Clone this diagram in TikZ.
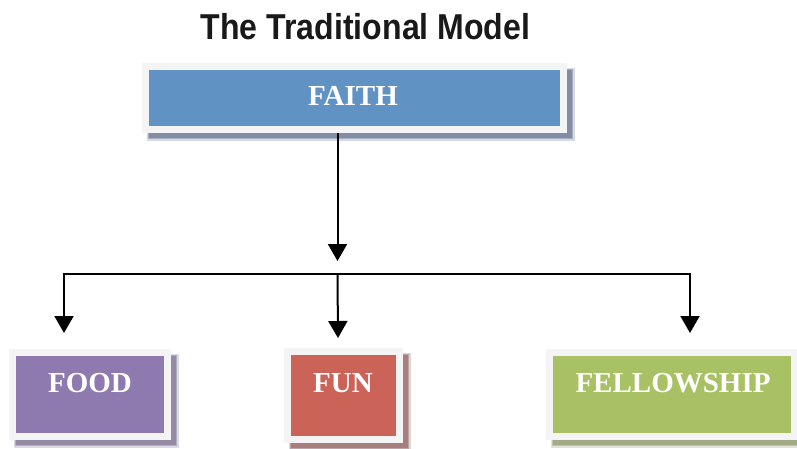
\documentclass[tikz,border=0pt]{standalone}
\usepackage{fontspec}
\newfontfamily\titlefont{Liberation Sans}
\newfontfamily\boxfont{Liberation Serif}
\usetikzlibrary{arrows.meta}
\pgfdeclarelayer{bg}
\pgfsetlayers{bg,main}
\definecolor{faithblue}{RGB}{97,146,196}
\definecolor{foodpurple}{RGB}{143,122,176}
\definecolor{funred}{RGB}{203,99,89}
\definecolor{fellgreen}{RGB}{168,193,101}
\definecolor{framecol}{RGB}{244,244,244}
\definecolor{shfaith}{RGB}{95,110,140}
\definecolor{shfood}{RGB}{120,105,140}
\definecolor{shfun}{RGB}{140,90,88}
\definecolor{shfell}{RGB}{135,148,100}
\tikzset{
  colbox/.style={draw=framecol, line width=7pt, inner sep=0pt, outer sep=3.5pt},
  boxtext/.style={text=white, anchor=base, inner sep=0pt, font=\boxfont\bfseries\fontsize{29}{32}\selectfont},
  arr/.style={line width=2pt, -{Triangle[width=19pt,length=17pt]}},
  bar/.style={line width=2pt},
}
\begin{document}
\begin{tikzpicture}[x=1pt,y=-1pt]
\useasboundingbox (0,0) rectangle (797,448);

% title
\node[anchor=base, inner sep=0pt, font=\titlefont\bfseries\fontsize{36}{40}\selectfont, text=black!90] (title) at (365.5,39) {\scalebox{0.89}[1]{The Traditional Model}};

% boxes
\node[colbox, fill=faithblue, minimum width=418pt, minimum height=63pt] (faith) at (354.5,98) {};
\node[colbox, fill=foodpurple, minimum width=155pt, minimum height=84pt] (food) at (90,394.5) {};
\node[colbox, fill=funred, minimum width=112pt, minimum height=88pt] (fun) at (343.5,395.5) {};
\node[colbox, fill=fellgreen, minimum width=245pt, minimum height=84pt] (fell) at (672,394.5) {};

% background and box shadows
\begin{pgfonlayer}{bg}
\fill[white] (0,0) rectangle (797,448);
\foreach \n/\c in {faith/shfaith, food/shfood, fun/shfun, fell/shfell}{
  \fill[\c, opacity=0.25] ([shift={(4.5,4.5)}]\n.north west) rectangle ([shift={(8,8)}]\n.south east);
  \fill[\c, opacity=0.4] ([shift={(6,6)}]\n.north west) rectangle ([shift={(6,6)}]\n.south east);
  \fill[\c, opacity=0.5] ([shift={(7,7)}]\n.north west) rectangle ([shift={(4.5,4.5)}]\n.south east);
}
\end{pgfonlayer}

% texts
\node[boxtext] (faithtxt) at (353,105) {FAITH};
\node[boxtext] (foodtxt) at (90,392) {FOOD};
\node[boxtext] (funtxt) at (343,392) {FUN};
\node[boxtext] (felltxt) at (673,392) {FELLOWSHIP};

% connectors
\coordinate (hub) at (337.5,274);
\coordinate (tip) at (337.5,261);
\coordinate (barL) at (64,274);
\coordinate (barR) at (690,274);
\coordinate (tipL) at (64,333);
\coordinate (tipM) at (338,338);
\coordinate (tipR) at (690,333);
\draw[arr] (faith.south -| tip) -- (tip);
\draw[bar] ([xshift=-1pt]barL) -- ([xshift=1pt]barR);
\draw[arr] (barL) -- (tipL);
\draw[arr] (hub) -- (tipM);
\draw[arr] (barR) -- (tipR);
\end{tikzpicture}
\end{document}
